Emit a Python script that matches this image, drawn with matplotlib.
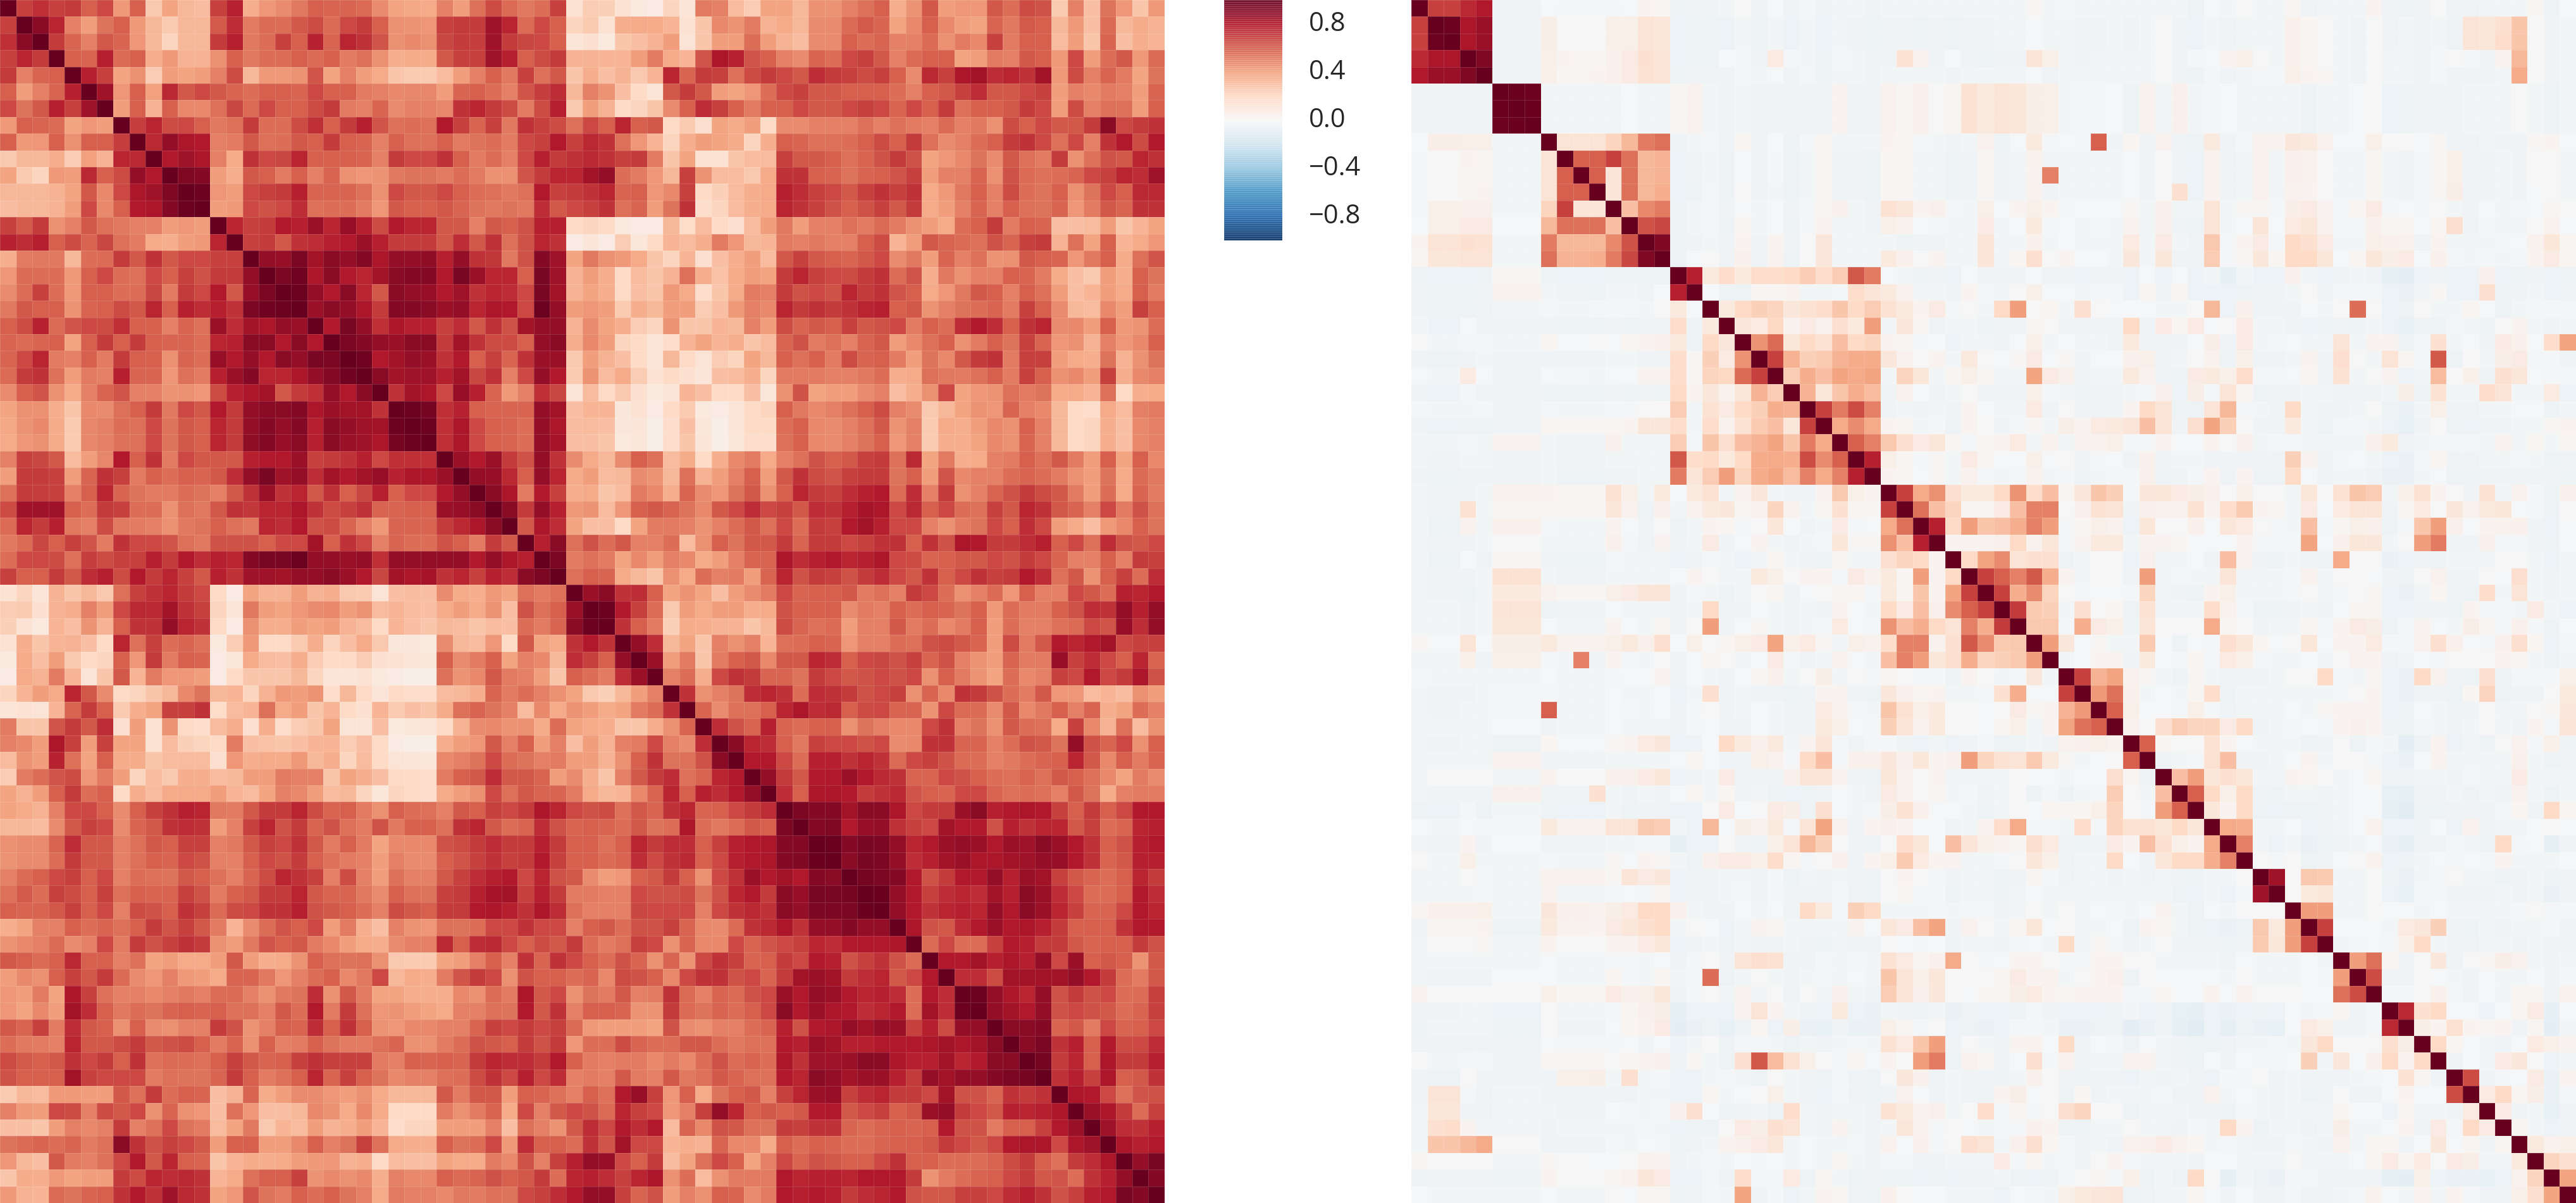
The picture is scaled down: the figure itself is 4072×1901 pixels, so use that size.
import matplotlib
matplotlib.use("Agg")
import matplotlib.pyplot as plt
from matplotlib.transforms import ScaledTranslation
import numpy as np

n = 72

# correlation values x100, upper triangle only
# a: rows 0-35, columns after the diagonal up to 35
left_a = [
    [68,73,68,70,60,66,43,60,27,40,33,31,68,77,36,44,47,53,60,58,58,57,47,40,39,38,50,42,55,65,57,53,56,68,15],
    [90,76,50,42,54,60,43,33,26,33,33,61,74,52,57,56,62,65,57,66,70,60,46,45,44,68,70,70,85,76,57,66,60,22],
    [70,58,50,62,58,44,33,22,33,33,70,78,53,56,68,60,77,58,76,72,63,46,48,46,67,70,69,85,70,67,66,60,13],
    [60,58,78,57,60,36,43,35,35,46,60,53,56,56,60,57,60,52,55,46,36,37,37,62,68,68,85,78,60,65,70,35],
    [78,68,40,46,25,42,40,42,50,65,33,43,43,45,63,40,50,42,38,28,26,26,32,42,50,60,53,68,55,62,28],
    [85,44,60,41,75,62,66,62,58,56,60,60,58,66,60,60,52,50,48,49,49,42,58,60,56,50,63,69,74,33],
    [42,60,35,60,48,48,55,67,57,66,60,60,65,70,52,50,58,47,50,50,49,72,76,70,65,52,65,78,27],
    [69,76,65,66,60,53,55,70,56,56,65,73,60,70,78,63,55,56,55,80,68,58,68,53,72,68,65,55],
    [75,88,82,80,50,52,62,55,56,62,60,70,60,58,50,60,55,55,60,52,54,56,52,66,68,80,68],
    [80,85,82,50,38,72,66,67,76,60,60,60,58,50,70,66,66,72,60,52,56,50,66,78,70,72],
    [93,92,42,36,62,60,52,60,50,58,46,44,45,53,54,54,52,56,52,46,46,63,70,76,76],
    [98,44,42,66,68,70,78,58,58,58,55,46,66,62,62,66,60,56,55,53,55,80,68,70],
    [42,43,66,64,66,74,55,56,56,52,44,62,60,60,62,58,54,53,54,53,74,62,66],
    [76,68,70,80,78,86,76,87,78,65,80,76,76,62,62,50,62,60,64,78,78,20],
    [68,70,62,72,74,78,80,86,78,70,70,70,62,74,62,72,55,64,76,72,8],
    [88,87,94,84,90,88,92,82,88,88,89,78,88,72,71,53,64,92,85,40],
    [94,97,82,90,80,76,84,90,92,92,80,95,86,76,76,60,95,85,35],
    [98,88,80,90,76,62,90,88,87,80,85,72,76,74,66,95,84,35],
    [86,90,88,82,70,92,92,90,86,88,76,82,80,66,98,88,42],
    [80,95,88,73,82,78,78,68,74,62,72,64,84,88,88,35],
    [94,92,88,86,90,90,70,84,72,65,65,60,88,90,36],
    [97,80,84,88,86,72,80,60,68,58,72,86,86,27],
    [90,84,85,85,78,84,67,72,50,66,88,80,26],
    [72,84,82,66,87,78,58,43,50,73,67,14],
    [98,96,73,77,60,58,58,58,88,84,30],
    [98,73,82,66,60,58,56,88,82,31],
    [73,82,66,60,58,56,88,83,30],
    [86,80,86,70,64,88,72,47],
    [88,87,75,60,88,76,37],
    [90,82,52,80,68,36],
    [90,70,88,78,43],
    [62,82,74,40],
    [78,90,55],
    [94,52],
    [55],
    [],
]

# b: rows 0-35, columns 36-71
left_b = [
    [25,24,15,10,8,22,13,52,50,32,25,40,40,33,46,45,50,55,60,36,45,62,42,44,44,62,56,65,64,26,50,30,54,44,28,43],
    [26,15,36,38,38,34,15,28,48,45,52,35,38,33,47,47,57,61,58,40,48,60,48,42,40,58,53,61,60,33,43,30,57,33,37,35],
    [16,10,28,30,35,42,14,28,42,42,56,42,35,31,47,47,60,56,58,50,50,57,46,52,48,68,52,60,60,32,42,28,58,30,36,34],
    [35,34,34,42,52,38,34,63,82,77,63,60,50,47,58,56,66,68,62,50,57,60,60,40,42,52,50,62,60,43,66,42,56,62,43,57],
    [36,30,35,27,34,76,58,70,68,55,65,70,66,62,74,70,68,65,68,60,47,75,68,82,84,74,76,72,84,43,65,50,58,52,40,54],
    [50,45,30,20,14,62,70,62,42,40,44,56,66,68,62,62,60,60,60,56,50,60,62,68,74,62,62,66,68,42,50,48,52,50,42,58],
    [42,35,20,22,28,47,60,74,68,60,52,60,60,66,62,62,66,68,66,58,66,60,70,55,60,60,62,70,66,42,65,50,55,55,42,60],
    [66,60,76,60,62,20,26,17,40,37,42,20,47,47,50,50,50,55,50,55,52,50,57,50,53,46,65,60,66,62,62,70,90,66,70,72],
    [75,72,55,44,34,22,36,42,40,37,22,36,60,58,55,55,56,60,65,60,70,55,47,50,56,60,70,72,66,55,66,50,72,80,65,80],
    [75,72,68,70,52,28,40,15,15,28,32,32,68,62,62,60,55,58,64,70,64,40,44,48,54,47,62,55,52,70,46,55,64,62,76,72],
    [84,88,56,52,44,33,68,45,32,32,27,38,72,72,60,58,54,58,60,63,68,42,50,50,58,46,64,57,55,56,58,66,68,76,74,85],
    [72,76,58,60,44,48,68,20,24,32,36,38,78,74,68,66,62,68,72,68,72,38,43,53,60,50,65,56,54,60,46,54,66,60,75,75],
    [68,72,55,58,42,54,72,18,22,32,36,38,76,72,68,64,60,64,68,62,70,38,42,50,58,50,60,55,54,58,44,52,62,58,72,72],
    [22,20,10,8,8,33,19,32,20,17,32,42,53,42,50,50,55,52,57,52,46,42,38,56,60,70,52,60,58,30,30,32,42,28,34,40],
    [13,8,25,12,20,34,32,36,52,44,33,34,52,50,53,50,50,60,65,34,42,62,58,57,55,64,58,68,70,35,55,40,60,34,38,44],
    [53,46,43,38,28,22,34,17,30,36,42,32,62,68,62,60,58,62,66,47,53,42,58,50,55,45,46,62,60,58,44,53,60,37,55,63],
    [42,36,20,32,28,35,55,36,29,38,42,40,70,76,68,66,65,70,72,56,63,36,53,46,50,50,60,58,52,37,30,27,42,36,60,54],
    [40,36,20,30,28,43,38,18,28,37,52,50,70,64,66,64,76,70,72,63,60,38,44,53,62,60,50,60,55,42,30,34,42,38,60,52],
    [44,42,26,36,33,42,42,25,30,43,50,48,76,70,72,70,72,76,78,60,62,45,50,54,56,58,52,68,60,47,33,32,48,42,68,60],
    [47,40,36,25,22,45,28,28,34,33,50,42,65,58,62,60,68,62,64,66,52,60,56,74,80,74,60,72,76,47,48,42,60,43,45,56],
    [48,42,22,20,13,18,34,40,34,36,28,32,58,64,52,55,50,58,62,42,48,55,60,46,52,60,54,68,58,44,46,35,50,44,48,60],
    [42,35,30,20,13,33,20,14,25,22,40,33,60,55,60,52,65,58,60,52,42,54,48,62,70,72,52,68,68,42,38,36,54,35,46,54],
    [45,32,38,25,15,20,16,13,30,32,36,22,52,52,52,50,50,53,56,36,38,55,53,52,55,60,52,68,60,46,48,42,68,36,48,50],
    [32,20,27,16,10,13,34,30,20,20,30,12,46,64,40,42,42,47,50,30,36,46,66,40,44,45,55,52,54,38,38,34,55,20,36,38],
    [34,34,11,15,8,20,26,10,8,14,20,22,60,53,48,50,55,60,65,50,47,27,33,40,45,44,58,50,48,33,20,18,38,32,50,52],
    [32,30,11,13,7,18,30,12,7,13,20,20,56,60,48,47,50,55,62,45,50,26,38,36,42,48,46,60,50,33,20,22,36,30,48,50],
    [30,28,10,12,7,18,28,13,7,12,18,18,55,60,48,47,50,54,60,44,50,26,36,36,40,48,46,58,50,33,20,22,36,30,48,50],
    [38,33,47,60,55,32,37,20,36,48,52,38,50,55,64,60,62,68,70,55,75,40,52,36,38,50,52,60,55,62,52,42,60,40,60,48],
    [42,32,33,47,45,33,55,35,42,50,60,42,62,72,65,63,68,70,70,54,60,42,63,48,50,50,56,58,56,52,46,42,54,38,57,53],
    [38,28,32,52,48,36,58,47,44,54,62,46,60,76,70,68,74,78,80,56,74,50,70,46,50,58,64,70,65,62,52,42,56,38,58,52],
    [45,32,44,60,62,58,54,48,62,66,74,66,68,62,74,72,78,83,82,66,75,60,66,56,55,68,62,76,72,62,58,50,66,52,64,55],
    [30,30,20,40,52,52,50,45,50,56,62,55,66,56,70,68,80,84,78,66,66,50,46,52,54,66,60,74,66,42,38,30,43,48,60,54],
    [64,56,62,50,50,56,32,46,60,54,62,62,70,58,70,70,66,68,72,72,60,72,64,82,80,70,70,74,78,60,66,55,74,64,62,66],
    [55,52,40,48,42,50,48,37,42,50,58,58,82,74,78,80,76,78,82,66,65,58,60,62,62,66,64,70,66,58,50,50,60,50,70,68],
    [60,58,38,33,28,46,38,56,50,52,42,58,76,64,70,68,64,70,74,66,62,72,60,66,72,68,70,80,74,55,62,45,60,68,56,74],
    [86,90,72,74,60,40,45,40,30,42,47,52,66,58,60,60,62,52,55,50,70,66,56,46,50,57,44,60,50,50,66,62,56,78,76,80],
]

# c: rows 36-70, columns after the diagonal up to 71
left_c = [
    [98,80,68,56,27,42,38,42,42,36,38,64,60,60,60,47,52,50,60,56,60,58,54,60,43,56,52,52,60,64,74,72,88,78,88],
    [72,60,52,24,37,36,35,35,28,33,65,58,55,57,42,50,50,62,52,56,48,52,60,42,56,50,50,55,57,66,63,87,74,88],
    [88,74,33,40,28,50,46,50,34,55,56,60,58,44,50,50,56,55,64,65,62,58,42,65,52,62,80,76,80,84,66,68,68],
    [86,42,52,28,52,60,62,48,62,62,76,74,60,66,67,64,68,58,64,50,45,42,58,52,52,87,68,74,66,60,76,58],
    [50,56,36,66,72,70,58,58,54,70,66,62,64,66,64,66,46,60,52,45,40,56,48,50,68,66,80,66,70,82,64],
    [72,46,50,54,74,76,72,56,74,72,70,64,66,68,46,58,48,72,70,64,56,52,62,44,44,32,34,31,46,42],
    [58,47,55,55,60,76,82,74,75,60,65,66,58,58,45,66,57,57,47,62,48,53,60,50,58,36,40,56,50],
    [74,64,58,78,58,56,60,60,46,54,50,48,48,66,72,50,54,46,62,56,55,38,68,48,35,55,32,46],
    [90,76,74,60,53,68,66,66,64,66,47,48,72,72,58,58,50,56,64,62,54,88,64,58,66,46,60],
    [80,80,66,56,78,78,72,76,72,57,66,68,64,57,56,50,53,56,58,60,76,62,48,60,52,58],
    [88,70,62,80,80,86,80,75,72,58,58,66,64,60,56,55,58,55,62,60,55,48,40,52,47],
    [74,60,82,82,80,70,72,75,63,60,58,66,66,58,55,56,55,50,62,54,37,50,52,52],
    [94,92,92,84,90,90,82,66,70,70,86,90,78,80,82,80,68,60,70,60,66,80,80],
    [92,93,80,87,88,72,68,66,84,80,80,64,78,72,76,76,62,68,56,58,76,78],
    [99,92,95,94,88,76,80,86,88,86,80,86,85,90,86,80,72,60,64,78,80],
    [90,95,94,88,74,78,84,86,82,82,84,85,88,87,80,72,58,62,78,78],
    [96,94,92,80,64,70,80,80,88,78,86,84,68,62,58,56,60,76,70],
    [99,88,80,68,74,76,74,84,78,90,86,74,66,56,56,60,80,74],
    [88,80,72,76,78,76,88,80,90,86,76,68,58,58,66,80,76],
    [82,64,62,74,80,86,80,82,78,70,60,60,60,72,80,80],
    [57,66,56,56,68,80,78,70,70,62,58,60,60,70,64],
    [80,80,84,78,82,78,88,66,86,60,62,60,45,62],
    [74,74,65,84,84,84,84,88,80,70,56,52,62],
    [98,88,82,76,88,64,70,64,66,56,56,68],
    [88,84,80,88,64,66,64,62,56,58,68],
    [90,90,92,58,62,52,66,58,60,66],
    [90,94,72,78,60,80,65,66,74],
    [96,70,76,60,82,70,70,78],
    [72,78,68,82,60,62,72],
    [82,80,66,55,63,64],
    [86,82,70,56,68],
    [85,74,72,78],
    [82,78,80],
    [88,95],
    [92],
]

right_a = [
    [68,68,75,80,-4,-4,-4,-1,-2,-2,-2,-2,-1,3,2,-5,-4,-4,-3,0,-4,-1,-4,-2,-4,-3,-3,-4,-3,-3,-3,-3,-3,-3,-3],
    [98,82,86,-4,-4,-4,7,0,0,0,6,6,14,12,-6,-5,-5,-6,-3,-5,-3,-6,-3,-6,-3,-4,-5,-4,-4,-5,-4,-5,-4,-4],
    [82,86,-4,-4,-4,7,0,0,0,6,6,14,12,-6,-5,-5,-6,-3,-5,-3,-6,-3,-6,-3,-4,-5,-4,-4,-5,-4,-5,-4,-4],
    [93,-4,-4,-4,6,3,2,2,5,8,16,14,-6,-5,-5,-1,-2,-4,9,-2,-3,-5,-2,-3,-4,-4,15,4,-4,-1,-4,-5],
    [-4,-4,-4,6,2,2,3,5,8,15,14,-5,-4,-4,-4,-2,-3,-1,-4,-2,-5,-3,-3,-4,-3,-3,-3,-3,-4,-3,-3],
    [99,98,-3,-3,-3,-3,-3,-1,-3,-3,1,4,-3,-4,-3,-4,-4,-4,-4,-4,3,-4,-4,4,1,5,0,2,15,10],
    [99,-3,-3,-3,-3,-3,-1,-3,-3,1,4,-3,-4,-3,-4,-4,-4,-4,-4,3,-4,-4,4,1,5,0,2,15,10],
    [-3,-3,-3,-3,-3,-1,-3,-3,1,4,-3,-4,-3,-4,-4,-4,-4,-4,3,-4,-4,4,1,5,0,2,15,10],
    [14,14,14,22,33,52,55,-5,-3,-2,-4,2,-4,-1,-5,-2,2,-3,-3,-3,3,1,-2,-3,-4,-3,4],
    [60,60,68,55,33,35,-6,-4,-3,-5,-1,-4,-2,-5,-3,1,-4,-4,-5,2,1,-3,-3,-5,-4,1],
    [60,13,55,33,35,-6,-4,-3,-5,-1,-4,-2,-5,-3,1,-4,-4,-5,2,1,-3,-3,-5,-4,1],
    [13,55,33,36,-6,-5,-2,-5,0,-4,-3,-5,-3,1,-4,-4,-5,2,1,-3,-3,-5,-4,1],
    [30,48,52,-5,-3,-2,-4,-1,-3,-1,-4,-2,2,5,-3,-4,15,12,3,5,-2,-3,6],
    [64,67,-5,-3,-2,-5,2,-3,-1,-5,-2,3,-3,-3,-4,6,4,-1,-2,-3,-3,8],
    [93,-5,-4,-3,-4,3,-4,3,-4,0,11,-3,-3,-3,-3,-5,-4,-4,-3,-3,13],
    [-5,-1,0,-4,5,-4,3,-5,0,11,-3,-3,-3,10,5,0,3,-3,-3,13],
    [78,10,18,10,18,18,20,25,18,25,62,52,-1,-3,-5,-4,-6,-1,-4],
    [-1,-5,-5,1,1,3,-3,-3,-2,18,13,10,4,-3,-3,-4,3,-2],
    [10,20,24,22,11,15,18,28,20,25,15,10,3,8,-2,0,-3],
    [11,9,21,4,8,4,17,10,42,-3,11,2,-4,-3,-3,-5],
    [45,57,12,20,15,30,20,22,3,1,-2,-1,-6,-3,-3],
    [68,35,24,26,35,37,37,11,4,0,3,-3,10,0],
    [25,36,30,40,38,40,-3,22,12,-3,2,6,2],
    [35,12,28,36,32,-4,4,-1,-4,-3,0,-4],
    [68,52,65,50,-4,-3,-4,-3,-4,3,-1],
    [38,47,38,3,2,-3,-2,-5,3,0],
    [60,50,27,16,8,12,2,-2,2],
    [78,6,2,-2,1,-3,8,2],
    [3,1,-1,1,-3,4,-2],
    [68,38,46,17,10,10],
    [55,30,22,2,2],
    [78,20,42,28],
    [3,3,3],
    [20,40],
    [68],
    [],
]

right_b = [
    [-3,-3,1,-3,-2,-3,-3,-3,-3,-3,-3,-3,-5,-1,-3,0,-3,-3,1,-4,-3,-3,-3,3,-4,-5,-4,0,-4,-4,-3,-3,-3,2,-5,-1],
    [-3,-3,-1,-3,-3,-4,-4,-3,-4,-3,0,-4,-6,-3,-4,-3,-3,-3,5,2,0,-3,-4,0,-4,-3,-4,-3,-5,14,12,16,28,0,-4,-3],
    [-3,-3,-1,-3,-3,-4,-4,-3,-4,-3,0,-4,-6,-3,-4,-3,-3,-3,5,2,0,-3,-4,0,-4,-3,-4,-3,-5,14,12,18,28,0,-4,-3],
    [-4,-4,14,6,-3,-4,-3,-3,-3,-3,0,-4,-2,-1,3,6,0,-3,5,2,0,-3,-4,0,-3,-3,-4,-2,0,-2,-4,3,33,0,-4,-3],
    [-3,-3,-1,-4,-3,-3,-3,-3,-3,-3,0,-4,-5,-2,-4,-3,-2,-2,6,3,1,-3,-4,0,-3,-3,-4,-2,-4,-4,-4,-3,38,0,-4,-3],
    [14,12,7,6,-3,-2,-2,-1,-5,4,-3,5,-3,-2,-1,-3,-3,-3,-3,-5,-3,-3,-1,0,-6,-5,-4,-4,-4,-3,-3,-3,0,-3,-5,-3],
    [14,12,7,6,-3,-2,-2,-1,-5,4,-3,5,-3,-2,-1,-3,-3,-3,-3,-5,-3,-3,-1,0,-6,-5,-4,-4,-4,-3,-3,-3,0,-3,-5,-3],
    [14,12,7,6,-3,-2,-2,-1,-5,4,-3,5,-3,-2,-1,-3,-3,-3,-3,-5,-3,-3,-1,0,-6,-5,-4,-4,-4,-3,-3,-3,0,-3,-5,-3],
    [-5,-1,10,-2,-1,-2,60,-4,2,-4,4,-4,-5,10,-4,-2,4,3,11,10,4,-1,-1,6,0,0,-1,1,-4,-4,-3,-4,-4,1,3,-1],
    [-4,-3,4,-3,-3,-3,-3,-3,-1,-4,0,-4,-6,4,-4,-3,4,-3,5,4,0,-3,-3,2,-3,-4,-2,1,6,-4,-4,-3,-4,0,0,-3],
    [-4,-3,3,50,-3,-3,-3,-3,-1,-4,0,-4,-6,4,-4,-3,4,-3,5,4,0,-3,-3,2,-3,-4,-2,1,6,-4,-4,-3,-4,0,0,-3],
    [-4,-3,4,-4,-3,-3,-3,-3,-1,-4,0,16,-6,4,-4,-3,4,-3,4,3,0,-3,-3,2,-3,-4,-2,1,7,-4,-4,-3,-4,-1,0,-3],
    [-1,3,6,3,-2,-1,-1,-1,1,-3,5,-3,-3,14,-3,1,1,-2,7,8,3,-2,2,8,-2,-1,-2,0,-3,-4,-1,-3,-2,-1,2,0],
    [-3,-1,10,-2,-1,-3,-2,-3,3,-3,5,-4,-5,14,-3,-1,13,-1,9,12,4,-2,-2,5,2,2,-1,2,17,-4,-2,-3,-3,0,4,-1],
    [-3,-3,5,-3,-1,-3,-3,-3,9,-3,8,-3,-4,27,-2,3,8,-2,20,16,8,-3,-3,6,5,4,-4,3,-3,-3,-3,-2,-1,4,12,2],
    [-3,2,17,0,3,-1,-1,-3,11,-3,12,-4,-4,25,-2,1,11,2,20,20,12,-1,2,12,7,8,-1,5,-2,-3,-2,-3,-2,3,8,2],
    [-4,-4,-1,-4,-4,-6,-4,-4,-6,-1,-6,-1,-6,-3,-9,-3,-6,-6,5,-3,-6,-4,-3,-4,-9,-10,-6,-4,-6,-6,5,-6,-5,-4,-6,-5],
    [-3,0,6,-1,-1,-3,-2,-2,-6,2,-4,2,-6,-6,-6,-5,-4,-4,-3,0,-4,-2,-2,-2,-6,-7,-3,1,-6,-6,17,-5,-4,-3,-6,-4],
    [20,42,0,2,-3,17,0,-1,-1,-1,-3,-3,0,33,-6,5,-4,-4,-4,-1,-3,0,56,0,-6,-5,0,-3,-3,2,-1,-5,-3,-2,-2,-2],
    [-4,-4,2,0,-4,-4,-4,-4,20,-4,8,2,8,-1,0,8,-3,-3,-4,-6,-5,-4,-5,-3,-6,-8,-5,-5,-2,-3,-5,0,3,-3,-4,-3],
    [-4,-1,6,-3,-1,-3,-3,-4,10,-4,-4,-4,-1,7,-4,8,-3,-2,-1,-3,-3,14,-3,3,3,-5,-2,16,-3,-1,-4,8,5,-1,18,40],
    [-1,1,8,-1,1,-4,-1,-1,5,6,-4,-3,0,4,-5,6,-4,-4,-3,3,-4,17,0,-3,14,2,-2,62,-5,0,-3,7,8,-2,-2,-4],
    [-3,-3,40,8,5,-4,-3,-3,10,4,-4,-5,8,10,6,18,-2,-2,-1,2,-4,15,-3,0,3,-6,-3,32,0,6,-5,16,12,-1,-2,-2],
    [-4,-4,6,-2,-3,-5,-4,-4,-3,-2,5,-6,7,-2,14,2,-5,-4,-4,-3,-3,-4,-4,-4,-3,7,-5,15,-3,-3,18,14,-3,-3,9,-6],
    [-3,-3,9,-4,0,-4,-4,-4,3,20,14,-5,-5,14,33,-2,-3,-4,20,-3,-4,-4,-3,0,-5,-7,-3,6,-4,-4,-3,-3,-1,-1,-5,-3],
    [-4,-2,1,-3,7,3,9,10,13,30,14,-4,17,40,24,0,-4,-4,10,-3,-5,-2,-2,-3,-6,-8,-4,0,-5,-6,-4,-4,-3,-3,1,3],
    [3,9,-3,4,-3,3,4,6,-2,-2,3,-1,-1,4,0,5,-3,-2,-2,-3,-3,-3,-3,5,10,-4,-3,-2,-2,-2,-3,3,-3,2,-3,2],
    [-1,-1,6,-1,0,-4,-2,-1,-4,5,-4,-3,-3,-4,-4,-4,-4,-4,24,3,-4,-2,-1,-3,-6,-7,-2,2,-4,-4,-3,-3,-2,-3,-5,-4],
    [-3,-2,4,-3,-2,-5,-3,-2,-2,5,-5,-4,-2,3,-5,3,-5,-5,20,-1,-4,-3,-3,-4,-7,-7,-3,-1,-5,-5,-4,-4,-4,-4,-4,-5],
    [20,45,18,30,2,11,28,24,-2,11,12,8,7,5,0,6,0,0,-3,12,0,15,28,25,-3,6,15,3,0,-4,15,-3,4,-2,-5,5],
    [8,30,50,50,0,5,15,14,-4,5,4,4,15,3,18,26,3,2,-3,8,-1,9,14,14,-4,2,9,0,11,4,10,12,-1,-2,-5,0],
    [30,36,50,42,-2,2,6,4,-6,12,0,0,5,-1,12,9,0,-2,-3,30,-2,2,6,5,-5,-2,28,42,5,-1,3,4,5,-4,-6,-1],
    [5,20,4,12,-2,3,10,10,-3,3,3,2,-1,-1,-1,3,-2,-2,-2,40,-1,5,12,11,-3,0,42,52,-4,-4,5,-2,-2,-4,-5,-1],
    [47,14,16,17,-5,-3,0,0,-6,5,-3,-3,-1,-4,30,3,-4,-5,-3,-4,-5,38,0,0,-7,-6,-4,-5,-3,-3,-3,0,0,-3,-6,-3],
    [60,50,62,36,3,-3,0,0,-4,42,-3,-2,-3,-3,13,-3,-3,-3,-2,4,-3,0,0,-1,-4,-5,0,4,-4,-4,0,-1,17,-3,-4,-3],
    [68,36,47,22,0,-2,-1,-1,-2,22,-3,-4,-5,3,6,-3,-3,-3,-2,0,-3,-2,0,1,-6,-7,-3,2,-4,-5,18,-3,14,-3,-4,-3],
]

right_c = [
    [70,26,24,-3,16,0,2,-5,15,-3,-3,-3,18,4,-2,-5,-5,-4,-3,-4,-1,2,1,-6,-6,-4,-4,-5,3,-2,-2,-3,8,-3,-6],
    [27,27,-2,36,8,6,-5,14,0,0,0,38,2,0,-4,-3,-3,2,-2,3,8,7,-5,-2,3,-1,-3,7,2,-2,5,-2,-5,-1],
    [42,11,-1,1,-3,-3,26,-1,-5,-1,-2,17,12,2,-1,0,12,-1,3,3,9,-2,-2,4,17,5,-1,-2,5,17,2,-6,-2],
    [-3,-1,3,3,-4,10,-1,-2,2,-2,9,6,-2,-3,-3,-1,-3,0,4,3,-4,-3,-1,-2,0,0,0,3,2,-3,-5,-3],
    [68,35,40,4,1,-3,-5,1,-3,-4,-4,-4,-3,0,0,20,-2,-3,1,-6,-7,20,4,-4,-5,17,-5,-2,-2,-2,6],
    [43,55,5,-3,-1,-3,2,18,-5,-3,-3,-3,-3,-3,-3,-2,0,3,-6,-7,-4,-4,-5,2,22,-5,-4,-4,0,10],
    [60,6,-1,-1,-2,6,-2,-4,-3,-3,-3,-1,-3,1,3,3,3,-6,-5,-1,-3,-4,-4,0,-3,-3,0,1,11],
    [4,0,17,25,22,22,8,20,-4,-3,-2,-1,-2,3,5,3,-5,-5,-2,-3,-4,-3,0,-3,-4,3,-2,13],
    [60,2,0,0,15,3,-1,-3,-3,-3,-5,-4,0,-5,-2,-3,-10,-5,3,-6,-3,-5,0,4,-2,6,-5],
    [-5,-3,-2,15,30,-4,-4,-3,-1,3,-3,0,0,-2,-6,-7,-1,3,-3,-3,-3,-3,5,-3,-5,-4],
    [30,42,12,16,12,-3,-3,3,2,0,-3,-1,1,-4,-4,-3,-3,-4,-2,-3,-3,8,-3,-3,-3],
    [60,20,6,20,-4,-5,-3,-3,-4,-3,-1,-1,-8,-9,-4,-4,-3,-4,-3,-4,4,-3,-5,-3],
    [12,3,20,-5,-6,-5,-5,-4,-3,-1,-1,-9,-11,-5,-5,-4,-4,-4,-2,2,-4,20,2],
    [38,36,-3,-3,-1,-6,-4,-3,-1,4,-6,-6,-5,-1,-6,4,-4,-3,-3,-1,0,-1],
    [50,-3,-6,-3,-7,-5,-4,-3,-1,-7,-9,-4,-4,-2,-3,-5,20,-2,-1,-9,-4],
    [0,-2,0,-5,-4,-1,0,4,-6,-5,-3,-1,-2,-1,-2,3,-3,-3,-3,-1],
    [85,0,27,26,-3,-3,0,-5,-7,-3,-2,0,-3,-3,-5,-4,-3,-5,-4],
    [0,10,12,-3,-3,0,-6,-8,-2,-2,-4,-4,-4,-3,-4,-3,-7,-4],
    [42,42,-3,-3,0,-1,-1,-3,-1,-3,-3,-3,-3,-2,0,-2,-2],
    [68,-1,-1,-1,-3,9,11,24,-4,-5,-3,-4,-3,-3,-2,-4],
    [-3,-2,-1,-2,6,20,-3,-4,-4,-3,-3,-4,-3,-4,-4],
    [42,55,2,-4,0,11,-4,0,1,7,4,-3,-4,-3],
    [65,-4,-4,0,-1,-3,-4,-1,-3,-3,-1,-4,-2],
    [-2,-2,0,5,-2,-4,-1,-3,2,2,-4,4],
    [75,16,20,-1,-1,-6,-1,2,8,-9,-1],
    [7,3,15,3,1,3,-4,2,-10,-3],
    [20,2,-1,-3,-4,-1,9,6,3],
    [-4,-1,-3,8,11,0,-6,-3],
    [65,-4,-2,-1,8,-7,3],
    [9,20,2,7,-7,-2],
    [8,-4,-3,-8,-4],
    [2,-3,-6,-4],
    [10,4,6],
    [22,17],
    [40],
]

tick_vals = [-0.8, -0.4, 0.0, 0.4, 0.8]
tick_text = ["\u22120.8", "\u22120.4", "0.0", "0.4", "0.8"]


def build(upper, outer, lower):
    m = np.eye(n)
    for i, row in enumerate(upper):
        m[i, i + 1:36] = np.array(row) / 100
    for i, row in enumerate(outer):
        m[i, 36:] = np.array(row) / 100
    for k, row in enumerate(lower):
        m[36 + k, 37 + k:] = np.array(row) / 100
    return m + np.triu(m, 1).T


W, H = 4072, 1901
fig = plt.figure(figsize=(W / 100, H / 100), dpi=100)
ax1 = fig.add_axes([0, 0, 1841 / W, 1])
ax2 = fig.add_axes([2231 / W, 0, 1841 / W, 1])
cax = fig.add_axes([1935 / W, 1 - 380 / H, 92 / W, 380 / H])

for ax, m in [(ax1, build(left_a, left_b, left_c)), (ax2, build(right_a, right_b, right_c))]:
    mesh = ax.pcolormesh(m, cmap="RdBu_r", vmin=-1, vmax=1,
                         edgecolors=(1, 1, 1, 0.14), linewidth=0.5)
    ax.set_xlim(0, n)
    ax.set_ylim(n, 0)
    ax.axis("off")

cbar = fig.colorbar(mesh, cax=cax)
cbar.outline.set_visible(False)
cbar.solids.set_edgecolor((1, 1, 1, 0.2))
cbar.solids.set_linewidth(0.5)
cbar.set_ticks(tick_vals, labels=tick_text)
cax.tick_params(length=0, pad=30, labelcolor="#262626")
nudge = ScaledTranslation(0, 5 / 100, fig.dpi_scale_trans)
for label in cax.get_yticklabels():
    label.set_family("Open Sans")
    label.set_fontsize(30)
    label.set_transform(label.get_transform() + nudge)

fig.savefig("out.png", dpi=100)
